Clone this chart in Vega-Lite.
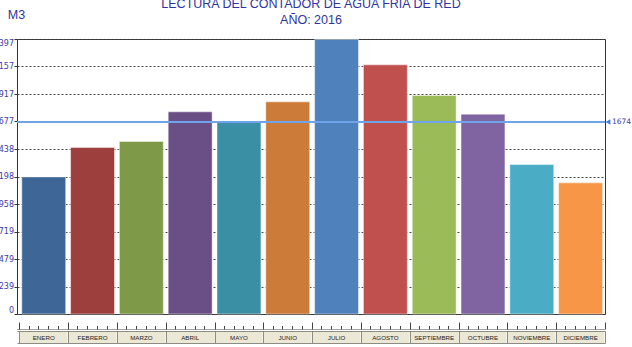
{
  "$schema": "https://vega.github.io/schema/vega-lite/v6.json",
  "width": 588,
  "height": 275,
  "autosize": {"type": "none"},
  "padding": {"left": 17, "top": 39, "right": 27, "bottom": 33},
  "background": "white",
  "title": {
    "text": ["LECTURA DEL CONTADOR DE AGUA FRIA DE RED", "AÑO: 2016"],
    "anchor": "middle",
    "frame": "group",
    "font": "Liberation Sans",
    "fontSize": 12.5,
    "fontWeight": "normal",
    "color": "#2f35a0",
    "lineHeight": 15.5,
    "offset": -18
  },
  "config": {
    "view": {"stroke": "#333333", "strokeWidth": 1}
  },
  "datasets": {
    "consumo": [
      {"mes": "ENERO", "m3": 1195},
      {"mes": "FEBRERO", "m3": 1451},
      {"mes": "MARZO", "m3": 1504},
      {"mes": "ABRIL", "m3": 1762},
      {"mes": "MAYO", "m3": 1669},
      {"mes": "JUNIO", "m3": 1849},
      {"mes": "JULIO", "m3": 2393},
      {"mes": "AGOSTO", "m3": 2172},
      {"mes": "SEPTIEMBRE", "m3": 1905},
      {"mes": "OCTUBRE", "m3": 1742},
      {"mes": "NOVIEMBRE", "m3": 1303},
      {"mes": "DICIEMBRE", "m3": 1143}
    ],
    "media": [{"media": 1674}]
  },
  "resolve": {"axis": {"x": "independent"}},
  "layer": [
    {
      "data": {"name": "consumo"},
      "mark": {"type": "bar", "width": {"band": 0.9}, "stroke": "white", "strokeOpacity": 0.45, "strokeWidth": 1},
      "encoding": {
        "x": {
          "field": "mes", "type": "nominal", "sort": null,
          "scale": {"paddingInner": 0, "paddingOuter": 0.024, "align": 1},
          "axis": {
            "orient": "bottom", "offset": 15, "tickBand": "extent", "tickSize": -7,
            "tickColor": "#444444", "tickWidth": 1, "domain": true, "domainColor": "#444444",
            "domainDash": [1, 1], "labels": false, "title": null, "grid": false
          }
        },
        "y": {
          "field": "m3", "type": "quantitative",
          "scale": {"domain": [0, 2397], "nice": false, "zero": true},
          "axis": {
            "values": [0, 239.7, 479.4, 719.1, 958.8, 1198.5, 1438.2, 1677.9, 1917.6, 2157.3, 2397],
            "tickCount": 12,
            "labelExpr": "'' + floor(datum.value)",
            "labelFont": "DejaVu Sans", "labelFontSize": 8, "labelColor": "#3b3ba6",
            "labelPadding": 0.5, "labelFlush": true, "labelOverlap": false, "labelBound": false,
            "tickSize": 3, "tickColor": "#333333", "domain": false,
            "grid": true, "gridColor": "#444444", "gridDash": [2, 2], "gridWidth": 1,
            "title": "M3", "titleAngle": 0, "titleAlign": "left", "titleBaseline": "alphabetic",
            "titleX": -9.7, "titleY": -20.7, "titleFont": "Liberation Sans", "titleFontSize": 12.5,
            "titleFontWeight": "normal", "titleColor": "#2f35a0"
          }
        },
        "color": {
          "field": "mes", "type": "nominal", "sort": null, "legend": null,
          "scale": {
            "domain": ["ENERO", "FEBRERO", "MARZO", "ABRIL", "MAYO", "JUNIO", "JULIO", "AGOSTO", "SEPTIEMBRE", "OCTUBRE", "NOVIEMBRE", "DICIEMBRE"],
            "range": ["#3E6797", "#9D3F3D", "#7E9A48", "#6A4E86", "#3A8FA5", "#CD7B38", "#4F81BD", "#C0504D", "#9BBB59", "#8064A2", "#4BACC6", "#F79646"]
          }
        }
      }
    },
    {
      "data": {"name": "consumo"},
      "mark": {"type": "bar", "opacity": 0},
      "encoding": {
        "x": {"field": "mes", "type": "nominal", "sort": null,
          "axis": {"orient": "bottom", "offset": 15, "bandPosition": 0.2, "tickSize": -3.5, "tickColor": "#444444", "domain": false, "labels": false, "title": null, "grid": false}}
      }
    },
    {
      "data": {"name": "consumo"},
      "mark": {"type": "bar", "opacity": 0},
      "encoding": {
        "x": {"field": "mes", "type": "nominal", "sort": null,
          "axis": {"orient": "bottom", "offset": 15, "bandPosition": 0.4, "tickSize": -3.5, "tickColor": "#444444", "domain": false, "labels": false, "title": null, "grid": false}}
      }
    },
    {
      "data": {"name": "consumo"},
      "mark": {"type": "bar", "opacity": 0},
      "encoding": {
        "x": {"field": "mes", "type": "nominal", "sort": null,
          "axis": {"orient": "bottom", "offset": 15, "bandPosition": 0.6, "tickSize": -3.5, "tickColor": "#444444", "domain": false, "labels": false, "title": null, "grid": false}}
      }
    },
    {
      "data": {"name": "consumo"},
      "mark": {"type": "bar", "opacity": 0},
      "encoding": {
        "x": {"field": "mes", "type": "nominal", "sort": null,
          "axis": {"orient": "bottom", "offset": 15, "bandPosition": 0.8, "tickSize": -3.5, "tickColor": "#444444", "domain": false, "labels": false, "title": null, "grid": false}}
      }
    },
    {
      "data": {"name": "consumo"},
      "mark": {"type": "bar", "opacity": 0},
      "encoding": {
        "x": {"field": "mes", "type": "nominal", "sort": null,
          "axis": {
            "orient": "bottom", "offset": 29, "bandPosition": 0.5, "tickSize": -12, "tickWidth": 48,
            "tickColor": "#ECE8D6", "tickCap": "butt", "domain": true, "domainColor": "#8c8c84",
            "labels": true, "labelFont": "Liberation Sans", "labelFontSize": 6.2, "labelColor": "#222222",
            "labelPadding": 6, "labelBaseline": "middle", "labelAngle": 0, "labelOverlap": false,
            "labelBound": false, "labelFlush": false, "title": null, "grid": false
          }}
      }
    },
    {
      "data": {"name": "consumo"},
      "mark": {"type": "bar", "opacity": 0},
      "encoding": {
        "x": {"field": "mes", "type": "nominal", "sort": null,
          "axis": {"orient": "bottom", "offset": 17, "tickBand": "extent", "tickSize": 12, "tickColor": "#8c8c84", "domain": true, "domainColor": "#8c8c84", "labels": false, "title": null, "grid": false}}
      }
    },
    {
      "data": {"name": "media"},
      "mark": {"type": "rule", "color": "#6fa3ea", "strokeWidth": 2},
      "encoding": {
        "y": {"field": "media", "type": "quantitative", "scale": {"domain": [0, 2397], "nice": false}}
      }
    },
    {
      "data": {"name": "media"},
      "mark": {"type": "point", "shape": "triangle-left", "filled": true, "size": 30, "color": "#3f7fe0", "opacity": 1, "xOffset": 3},
      "encoding": {
        "x": {"value": "width"},
        "y": {"field": "media", "type": "quantitative", "scale": {"domain": [0, 2397], "nice": false}}
      }
    },
    {
      "data": {"name": "media"},
      "mark": {"type": "text", "align": "left", "baseline": "middle", "dx": 7, "font": "DejaVu Sans", "fontSize": 7.5, "color": "#3b3ba6"},
      "encoding": {
        "x": {"value": "width"},
        "y": {"field": "media", "type": "quantitative", "scale": {"domain": [0, 2397], "nice": false}},
        "text": {"field": "media", "type": "quantitative", "format": "d"}
      }
    }
  ]
}
